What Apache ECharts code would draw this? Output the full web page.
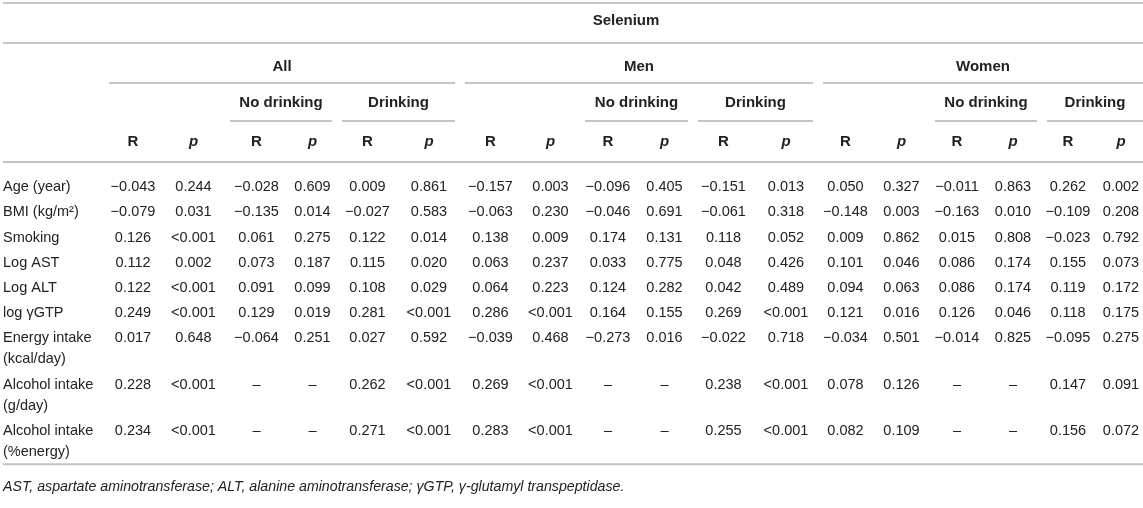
<!DOCTYPE html>
<html>
<head>
<meta charset="utf-8">
<script src="https://cdn.jsdelivr.net/npm/echarts@6/dist/echarts.min.js"></script>
<style>
  html, body { margin: 0; padding: 0; background: #fff; }
  #chart { width: 1143px; height: 508px; }
</style>
</head>
<body>
<div id="chart"></div>
<script>
// ---- table content ----
const title = 'Selenium'
const groups = ['All', 'Men', 'Women']
const subGroups = ['No drinking', 'Drinking']
const statHeads = ['R', 'p']

const rowLabels = [
  ['Age (year)'],
  ['BMI (kg/m²)'],
  ['Smoking'],
  ['Log AST'],
  ['Log ALT'],
  ['log γGTP'],
  ['Energy intake', '(kcal/day)'],
  ['Alcohol intake', '(g/day)'],
  ['Alcohol intake', '(%energy)']
]

// each row: R, p, no-drinking R, p, drinking R, p
const allValues = [
  ['−0.043', '0.244', '−0.028', '0.609', '0.009', '0.861'],
  ['−0.079', '0.031', '−0.135', '0.014', '−0.027', '0.583'],
  ['0.126', '<0.001', '0.061', '0.275', '0.122', '0.014'],
  ['0.112', '0.002', '0.073', '0.187', '0.115', '0.020'],
  ['0.122', '<0.001', '0.091', '0.099', '0.108', '0.029'],
  ['0.249', '<0.001', '0.129', '0.019', '0.281', '<0.001'],
  ['0.017', '0.648', '−0.064', '0.251', '0.027', '0.592'],
  ['0.228', '<0.001', '–', '–', '0.262', '<0.001'],
  ['0.234', '<0.001', '–', '–', '0.271', '<0.001']
]
const menValues = [
  ['−0.157', '0.003', '−0.096', '0.405', '−0.151', '0.013'],
  ['−0.063', '0.230', '−0.046', '0.691', '−0.061', '0.318'],
  ['0.138', '0.009', '0.174', '0.131', '0.118', '0.052'],
  ['0.063', '0.237', '0.033', '0.775', '0.048', '0.426'],
  ['0.064', '0.223', '0.124', '0.282', '0.042', '0.489'],
  ['0.286', '<0.001', '0.164', '0.155', '0.269', '<0.001'],
  ['−0.039', '0.468', '−0.273', '0.016', '−0.022', '0.718'],
  ['0.269', '<0.001', '–', '–', '0.238', '<0.001'],
  ['0.283', '<0.001', '–', '–', '0.255', '<0.001']
]
const womenValues = [
  ['0.050', '0.327', '−0.011', '0.863', '0.262', '0.002'],
  ['−0.148', '0.003', '−0.163', '0.010', '−0.109', '0.208'],
  ['0.009', '0.862', '0.015', '0.808', '−0.023', '0.792'],
  ['0.101', '0.046', '0.086', '0.174', '0.155', '0.073'],
  ['0.094', '0.063', '0.086', '0.174', '0.119', '0.172'],
  ['0.121', '0.016', '0.126', '0.046', '0.118', '0.175'],
  ['−0.034', '0.501', '−0.014', '0.825', '−0.095', '0.275'],
  ['0.078', '0.126', '–', '–', '0.147', '0.091'],
  ['0.082', '0.109', '–', '–', '0.156', '0.072']
]

const footnote = 'AST, aspartate aminotransferase; ALT, alanine aminotransferase; γGTP, γ-glutamyl transpeptidase.'

// ---- layout (px in the 1143 x 508 frame) ----
const W = 1143
const H = 508
const colEdges = [104, 162, 225, 288, 337, 398, 460, 521, 580, 636, 693, 754, 818, 873, 930, 984, 1042, 1094, 1148]
const labelX = 3
const ruleInset = 5
const headY = { title: 21, group: 67, groupRule: 83, sub: 103, subRule: 121, stat: 142 }
const fullRules = [3, 43, 162]
const bodyTop = 174.5
const rowPad = 4.2
const lineH = 21
const footY = 487

const FONT = '"Liberation Sans", Arial, sans-serif'
const bodyFont = '14.5px ' + FONT
const headFont = 'bold 15px ' + FONT
const TEXT = '#222'
const RULE = '#c4c4c4'

const colCenter = (i) => (colEdges[i] + colEdges[i + 1]) / 2
const spanCenter = (a, b) => (colEdges[a] + colEdges[b + 1]) / 2

// ---- build cell + rule lists ----
const cells = []
const rules = []

cells.push({ x: spanCenter(0, 17), y: headY.title, text: title, font: headFont })
fullRules.forEach((y) => rules.push([labelX, W, y]))

groups.forEach((g, gi) => {
  const c0 = gi * 6
  cells.push({ x: spanCenter(c0, c0 + 5), y: headY.group, text: g, font: headFont })
  rules.push([colEdges[c0] + ruleInset, colEdges[c0 + 6] - ruleInset, headY.groupRule])
  subGroups.forEach((s, si) => {
    const a = c0 + 2 + si * 2
    cells.push({ x: spanCenter(a, a + 1), y: headY.sub, text: s, font: headFont })
    rules.push([colEdges[a] + ruleInset, colEdges[a + 2] - ruleInset, headY.subRule])
  })
  for (let k = 0; k < 6; k++) {
    const h = statHeads[k % 2]
    cells.push({
      x: colCenter(c0 + k),
      y: headY.stat,
      text: h,
      font: (h === 'p' ? 'italic ' : '') + headFont
    })
  }
})

const groupValues = [allValues, menValues, womenValues]
let rowTop = bodyTop
rowLabels.forEach((lines, ri) => {
  const y0 = rowTop + lineH / 2 + rowPad / 2
  lines.forEach((t, li) => {
    cells.push({ x: labelX, y: y0 + li * lineH, text: t, font: bodyFont, align: 'left' })
  })
  groupValues.forEach((vals, gi) => {
    vals[ri].forEach((v, k) => {
      cells.push({ x: colCenter(gi * 6 + k), y: y0, text: v, font: bodyFont })
    })
  })
  rowTop += lines.length * lineH + rowPad
})
rules.push([labelX, W, rowTop])
cells.push({ x: labelX, y: footY, text: footnote, font: 'italic 14.2px ' + FONT, align: 'left' })

// ---- chart ----
const chart = echarts.init(document.getElementById('chart'), null, { renderer: 'canvas' })

const option = {
  animation: false,
  grid: { left: 0, right: 0, top: 0, bottom: 0 },
  xAxis: { type: 'value', min: 0, max: W, show: false },
  yAxis: { type: 'value', min: 0, max: H, inverse: true, show: false },
  series: [
    {
      type: 'custom',
      name: 'rules',
      silent: true,
      clip: false,
      data: rules,
      renderItem: (params, api) => {
        const a = api.coord([api.value(0), api.value(2)])
        const b = api.coord([api.value(1), api.value(2)])
        return {
          type: 'line',
          shape: { x1: a[0], y1: a[1], x2: b[0], y2: b[1] },
          style: { stroke: RULE, lineWidth: 2 }
        }
      }
    },
    {
      type: 'custom',
      name: 'cells',
      silent: true,
      clip: false,
      data: cells.map((c, i) => [c.x, c.y, i]),
      renderItem: (params, api) => {
        const c = cells[api.value(2)]
        const p = api.coord([api.value(0), api.value(1)])
        return {
          type: 'text',
          x: p[0],
          y: p[1],
          style: {
            text: c.text,
            font: c.font,
            fill: TEXT,
            align: c.align || 'center',
            verticalAlign: 'middle'
          }
        }
      }
    }
  ]
}
chart.setOption(option)
</script>
</body>
</html>
